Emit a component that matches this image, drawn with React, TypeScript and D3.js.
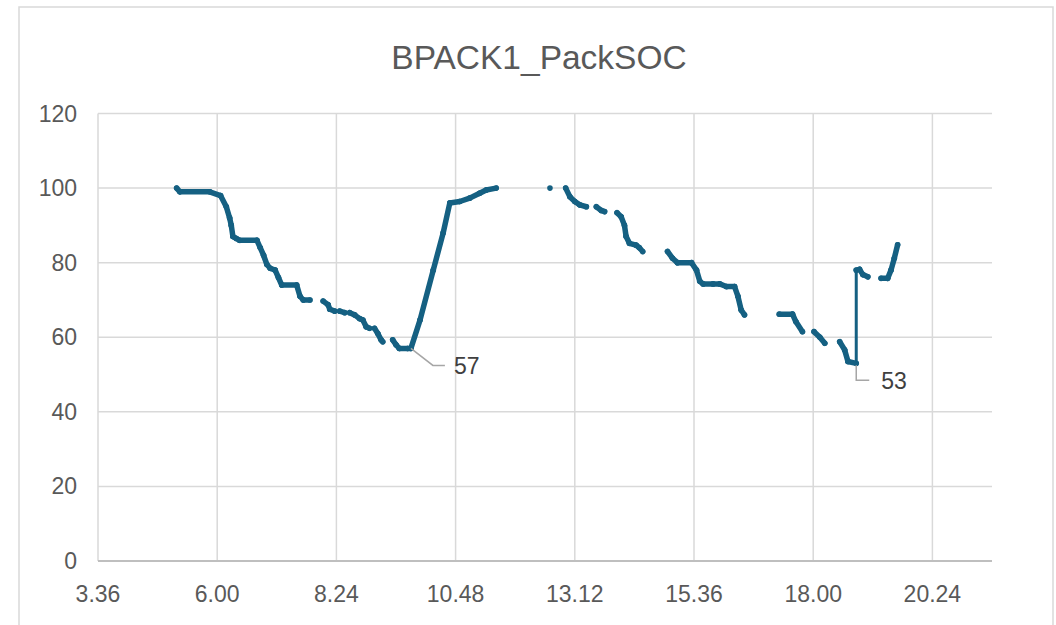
import React from "react";
import { scaleLinear, line } from "d3";

// Reading times (h:mm) and pack SOC (%); null marks a break in the logged data
const readingTimes = [
  "5:11", "5:15", "5:51", "6:04", "6:11", "6:15", "6:17", "6:19", "6:23", "6:27",
  "6:48", "6:52", "6:56", "7:00", "7:04", "7:10", "7:14", "7:18", "7:36", "7:40",
  "7:44", "7:52", "8:00", "8:08", "8:14", "8:16", "8:22", "8:25", "8:28", "8:34",
  "8:37", "8:40", "8:46", "8:52", "8:56", "9:00", "9:04", "9:07", "9:10", "9:14",
  "9:18", "9:20", "9:26", "9:32", "9:36", "9:40", "9:50", "9:54", "10:05", "10:21",
  "10:33", "10:41", "10:53", "11:05", "11:17", "11:25", "11:37", "12:00", "12:42", "12:50",
  "13:01", "13:06", "13:12", "13:18", "13:26", "13:32", "13:38", "13:44", "13:48", "13:55",
  "14:03", "14:08", "14:12", "14:14", "14:18", "14:26", "14:30", "14:34", "14:50", "15:04",
  "15:10", "15:16", "15:33", "15:39", "15:43", "15:47", "15:59", "16:07", "16:15", "16:25",
  "16:29", "16:33", "16:37", "17:00", "17:19", "17:35", "17:39", "17:47", "17:54", "18:01",
  "18:08", "18:14", "18:23", "18:32", "18:38", "18:42", "18:52", "18:52", "18:56", "19:00",
  "19:06", "19:14", "19:22", "19:30", "19:34", "19:38", "19:42",
];

const packSoc: (number | null)[] = [
  100, 99, 99, 98, 95, 92, 90, 87, 86.5, 86,
  86, 84, 82, 79.5, 78.5, 78, 76, 74, 74, 71,
  70, 70, null, 69.7, 68.7, 67.5, 67, null, 67, 66.6,
  null, 66.6, 66, 65, 64.6, 62.8, 62.4, null, 62.4, 61,
  59.3, 58.8, null, 59.3, 58, 57, 57, 57, 64.6, 78,
  88, 96, 96.4, 97.3, 98.6, 99.5, 100, null, 100, null,
  100, 97.7, 96.4, 95.5, 95, null, 95, 94, 93.7, null,
  93.4, 92.3, 90, 87, 85.2, 84.7, 84, 83, null, 83,
  81.2, 80, 80, 78, 75, 74.3, 74.3, 74.3, 73.6, 73.6,
  71, 67.3, 66, null, 66.2, 66.2, 64.2, 61.5, null, 61.5,
  60, 58.4, null, 58.8, 56.6, 53.5, 53, 78, 78.2, 76.8,
  76.2, null, 75.8, 75.8, 78, 81.2, 84.8,
];

// Readings that carry a data label
const calloutTimes = ["9:54", "18:52"];

const yTicks = [0, 20, 40, 60, 80, 100, 120];
// x axis in fraction of a day, labelled as h.mm
const xTicks = [0.15, 0.25, 0.35, 0.45, 0.55, 0.65, 0.75, 0.85];
const xTickLabels = ["3.36", "6.00", "8.24", "10.48", "13.12", "15.36", "18.00", "20.24"];

const toDay = (s: string) => {
  const [h, m] = s.split(":").map(Number);
  return (h * 60 + m) / 1440;
};

const FONT = "'Liberation Sans', Arial, sans-serif";
const SERIES = "#156082";

export default function App() {
  const x = scaleLinear().domain([0.15, 0.9]).range([98, 992]);
  const y = scaleLinear().domain([0, 120]).range([561, 113.5]);

  const pts = readingTimes.map((t, i) => ({ t: toDay(t), v: packSoc[i] }));

  // segments between consecutive readings; an instant jump is drawn thin
  const segs: { d: string; w: number }[] = [];
  for (let i = 1; i < pts.length; i++) {
    const a = pts[i - 1];
    const b = pts[i];
    if (a.v == null || b.v == null) continue;
    const d = line<{ t: number; v: number | null }>()
      .x((p) => x(p.t))
      .y((p) => y(p.v as number))([a, b]);
    segs.push({ d: d ?? "", w: b.t - a.t === 0 ? 3 : 5.5 });
  }

  const callouts = calloutTimes.map((ct, k) => {
    const idx = readingTimes.indexOf(ct);
    return { px: x(toDay(ct)), py: y(packSoc[idx] as number), v: packSoc[idx], k };
  });

  return (
    <div style={{ position: "absolute", left: 0, top: 0 }}>
      <svg width={1056} height={625} style={{ display: "block", background: "#fff" }}>
        <rect x={19} y={7} width={1034} height={660} fill="#fff" stroke="#d9d9d9" strokeWidth={1.5} />

        <text x={539} y={68.5} textAnchor="middle" fontFamily={FONT} fontSize={33.5} fill="#595959">
          BPACK1_PackSOC
        </text>

        {/* horizontal gridlines */}
        {yTicks.slice(1).map((v) => (
          <line key={"h" + v} x1={x(0.15)} x2={x(0.9)} y1={y(v)} y2={y(v)} stroke="#d9d9d9" strokeWidth={1.5} />
        ))}
        {/* vertical gridlines */}
        {xTicks.map((v) => (
          <line key={"v" + v} x1={x(v)} x2={x(v)} y1={y(120)} y2={y(0)} stroke="#d9d9d9" strokeWidth={1.5} />
        ))}
        <line x1={x(0.15)} x2={x(0.9)} y1={y(0)} y2={y(0)} stroke="#bfbfbf" strokeWidth={1.8} />

        {yTicks.map((v) => (
          <text key={"yl" + v} x={77} y={y(v) + 8} textAnchor="end" fontFamily={FONT} fontSize={23} fill="#595959">
            {v}
          </text>
        ))}
        {xTicks.map((v, i) => (
          <text key={"xl" + v} x={x(v)} y={601.5} textAnchor="middle" fontFamily={FONT} fontSize={23} fill="#595959">
            {xTickLabels[i]}
          </text>
        ))}

        {/* series */}
        {segs.map((s, i) => (
          <path key={"s" + i} d={s.d} fill="none" stroke={SERIES} strokeWidth={s.w} strokeLinecap="round" strokeLinejoin="round" />
        ))}
        {pts.map((p, i) =>
          p.v == null ? null : <circle key={"c" + i} cx={x(p.t)} cy={y(p.v)} r={2.8} fill={SERIES} />
        )}

        {/* data labels with leader lines */}
        {callouts.map((c) =>
          c.k === 0 ? (
            <g key={"cl" + c.k}>
              <polyline
                points={`${c.px},${c.py} ${c.px + 22},${c.py + 17} ${c.px + 34},${c.py + 17}`}
                fill="none"
                stroke="#a6a6a6"
                strokeWidth={1.5}
              />
              <text x={c.px + 43} y={c.py + 25.5} fontFamily={FONT} fontSize={23} fill="#404040">
                {c.v}
              </text>
            </g>
          ) : (
            <g key={"cl" + c.k}>
              <polyline
                points={`${c.px},${c.py + 2} ${c.px},${c.py + 17} ${c.px + 13},${c.py + 17}`}
                fill="none"
                stroke="#a6a6a6"
                strokeWidth={1.5}
              />
              <text x={c.px + 25} y={c.py + 25.5} fontFamily={FONT} fontSize={23} fill="#404040">
                {c.v}
              </text>
            </g>
          )
        )}
      </svg>
    </div>
  );
}
